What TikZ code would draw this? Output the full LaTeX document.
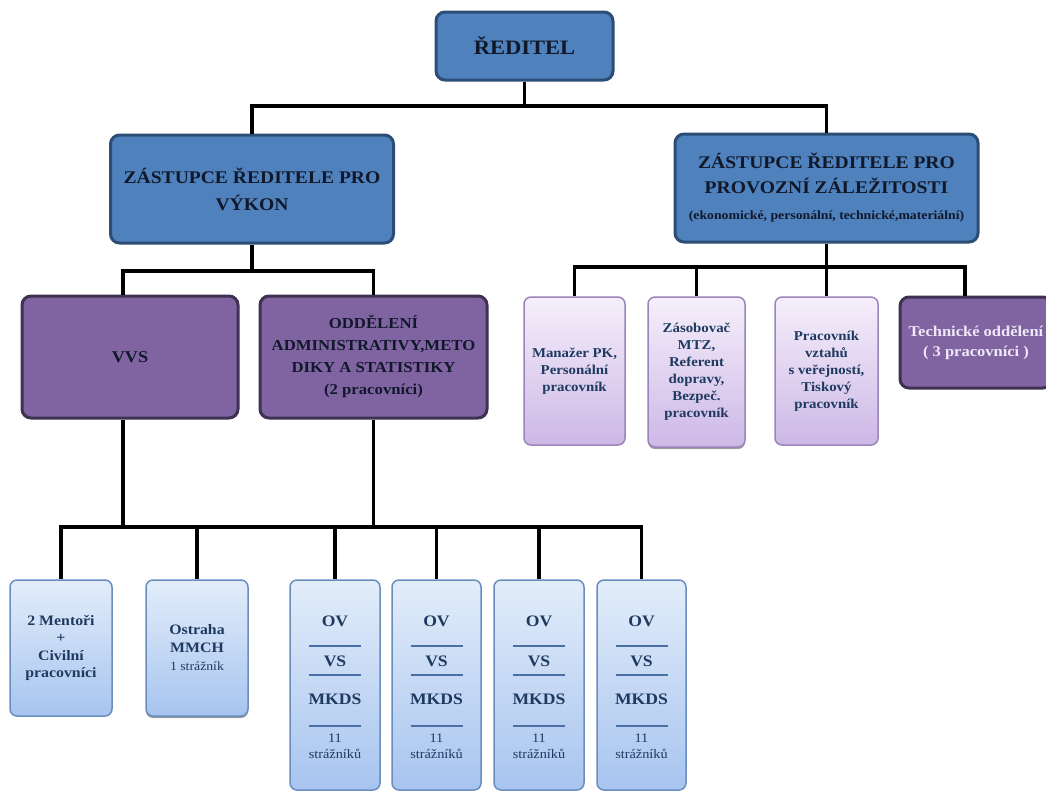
\documentclass[tikz,border=0pt]{standalone}
\usepackage{fontspec}
\setmainfont[FakeStretch=1.1]{Liberation Serif}
\usetikzlibrary{shadows}

\definecolor{boxblue}{HTML}{4F81BD}
\definecolor{boxblueedge}{HTML}{2C4D75}
\definecolor{boxpurple}{HTML}{8064A2}
\definecolor{boxpurpleedge}{HTML}{3F3151}
\definecolor{lilactop}{HTML}{F5EFFB}
\definecolor{lilacbot}{HTML}{CDB8E6}
\definecolor{lilacedge}{HTML}{9A84BA}
\definecolor{skytop}{HTML}{E3EDFA}
\definecolor{skybot}{HTML}{A7C4EF}
\definecolor{skyedge}{HTML}{6A8DC0}
\definecolor{rulecol}{HTML}{4A6FA5}
\definecolor{navytext}{HTML}{1F3A60}
\definecolor{darktext}{HTML}{10182A}
\definecolor{palelilac}{HTML}{F0E8F8}

\tikzset{
  box/.style={rounded corners=9pt, align=center, inner sep=0pt, font=\bfseries},
  headbox/.style={box, fill=boxblue, draw=boxblueedge, line width=3pt, text=darktext},
  deptbox/.style={box, fill=boxpurple, draw=boxpurpleedge, line width=3pt, text=darktext},
  lilacbox/.style={box, rounded corners=7pt, top color=lilactop, bottom color=lilacbot,
    draw=lilacedge, line width=1.5pt, text=navytext},
  skybox/.style={box, rounded corners=7pt, top color=skytop, bottom color=skybot,
    draw=skyedge, line width=1.5pt, text=navytext},
  lifted/.style={drop shadow={shadow xshift=0pt, shadow yshift=-2pt, fill=black!70, opacity=0.55}},
  conn/.style={line width=3.5pt, draw=black},
  rulebar/.style={line width=1.8pt, draw=rulecol},
  ovtext/.style={font=\bfseries\fontsize{16}{16}\selectfont, text=navytext},
  ovsmall/.style={font=\fontsize{13}{13}\selectfont, text=navytext}
}

\begin{document}
\begin{tikzpicture}[x=1pt, y=-1pt]
\useasboundingbox (0,0) rectangle (1046,793);
\fill[white] (0,0) rectangle (1046,793);
\clip (0,0) rectangle (1046,793);

% bus heights
\coordinate (busA) at (0,106);
\coordinate (busB) at (0,271);
\coordinate (busC) at (0,267);
\coordinate (busD) at (0,527);

% top level
\node[headbox, minimum width=177pt, minimum height=68pt, font=\bfseries\fontsize{20.5}{24}\selectfont]
  (dir) at (524.5,46) {ŘEDITEL};

% deputies
\node[headbox, minimum width=283pt, minimum height=108pt, font=\bfseries\fontsize{17.8}{27}\selectfont]
  (depL) at (252,189) {ZÁSTUPCE ŘEDITELE PRO\\VÝKON};
\node[headbox, minimum width=303pt, minimum height=108pt, font=\bfseries\fontsize{17.8}{25}\selectfont]
  (depR) at (826.5,188) {ZÁSTUPCE ŘEDITELE PRO\\PROVOZNÍ ZÁLEŽITOSTI\\[1pt]
  {\fontsize{12.5}{15}\selectfont (ekonomické, personální, technické,materiální)}};

% departments under the performance deputy
\node[deptbox, minimum width=216pt, minimum height=122pt, font=\bfseries\fontsize{16.5}{18}\selectfont]
  (vvs) at (130,357) {VVS};
\node[deptbox, minimum width=227pt, minimum height=122pt, font=\bfseries\fontsize{15.2}{22}\selectfont]
  (odd) at (373.5,357) {ODDĚLENÍ\\ADMINISTRATIVY,METO\\DIKY A STATISTIKY\\(2 pracovníci)};

% staff under the operations deputy
\node[lilacbox, minimum width=101pt, minimum height=148pt, font=\bfseries\fontsize{13.5}{17}\selectfont]
  (man) at (574.5,371) {Manažer PK,\\Personální\\pracovník};
\node[lilacbox, lifted, minimum width=97pt, minimum height=150pt, font=\bfseries\fontsize{13.5}{17}\selectfont]
  (zas) at (696.5,372) {Zásobovač\\MTZ,\\Referent\\dopravy,\\Bezpeč.\\pracovník};
\node[lilacbox, minimum width=103pt, minimum height=148pt, font=\bfseries\fontsize{13.5}{17}\selectfont]
  (prac) at (826.5,371) {Pracovník\\vztahů\\s veřejností,\\Tiskový\\pracovník};
\node[deptbox, minimum width=152pt, minimum height=91pt, text=palelilac, font=\bfseries\fontsize{15}{20}\selectfont]
  (tech) at (976,342.5) {Technické oddělení\\( 3 pracovníci )};

% bottom level
\node[skybox, minimum width=102pt, minimum height=136pt, font=\bfseries\fontsize{14.4}{17.5}\selectfont]
  (mentor) at (61,648) {2 Mentoři\\+\\Civilní\\pracovníci};
\node[skybox, lifted, minimum width=102pt, minimum height=136pt, font=\bfseries\fontsize{14.4}{18}\selectfont]
  (ostraha) at (197,648) {Ostraha\\MMCH\\{\mdseries\fontsize{12.5}{15}\selectfont 1 strážník}};
\node[skybox, minimum width=90pt, minimum height=210pt] (ov1) at (335,685) {};
\node[skybox, minimum width=89pt, minimum height=210pt] (ov2) at (436.5,685) {};
\node[skybox, minimum width=90pt, minimum height=210pt] (ov3) at (539,685) {};
\node[skybox, minimum width=89pt, minimum height=210pt] (ov4) at (641.5,685) {};

% contents of the patrol boxes
\foreach \b in {ov1,ov2,ov3,ov4}{
  \node[ovtext] (\b-a) at ([yshift=-42pt]\b.north) {OV};
  \draw[rulebar] ([xshift=-26pt,yshift=-67pt]\b.north) -- ([xshift=26pt,yshift=-67pt]\b.north);
  \node[ovtext] (\b-b) at ([yshift=-82pt]\b.north) {VS};
  \draw[rulebar] ([xshift=-26pt,yshift=-96pt]\b.north) -- ([xshift=26pt,yshift=-96pt]\b.north);
  \node[ovtext] (\b-c) at ([yshift=-120pt]\b.north) {MKDS};
  \draw[rulebar] ([xshift=-26pt,yshift=-147pt]\b.north) -- ([xshift=26pt,yshift=-147pt]\b.north);
  \node[ovsmall] (\b-d) at ([yshift=-159pt]\b.north) {11};
  \node[ovsmall] (\b-e) at ([yshift=-175pt]\b.north) {strážníků};
}

% connectors
\draw[conn] (dir.south) -- (dir.south |- busA);
\draw[conn] (depL.north) |- (busA -| dir.south) -| (depR.north);

\draw[conn] (depL.south) -- (depL.south |- busB);
\draw[conn] ([xshift=-7pt]vvs.north) |- (busB -| depL.south) -| (odd.north);

\draw[conn] (depR.south) -- (depR.south |- busC);
\draw[conn] (man.north) |- (busC -| depR.south) -| ([xshift=-11pt]tech.north);
\draw[conn] (zas.north) -- (zas.north |- busC);
\draw[conn] (prac.north) -- (prac.north |- busC);

\draw[conn] ([xshift=-7pt]vvs.south) -- ([xshift=-7pt]vvs.south |- busD);
\draw[conn] (odd.south) -- (odd.south |- busD);
\draw[conn] (mentor.north) |- (busD -| ov4.north) -- (ov4.north);
\foreach \b in {ostraha,ov1,ov2,ov3}{
  \draw[conn] (\b.north) -- (\b.north |- busD);
}
\end{tikzpicture}
\end{document}
